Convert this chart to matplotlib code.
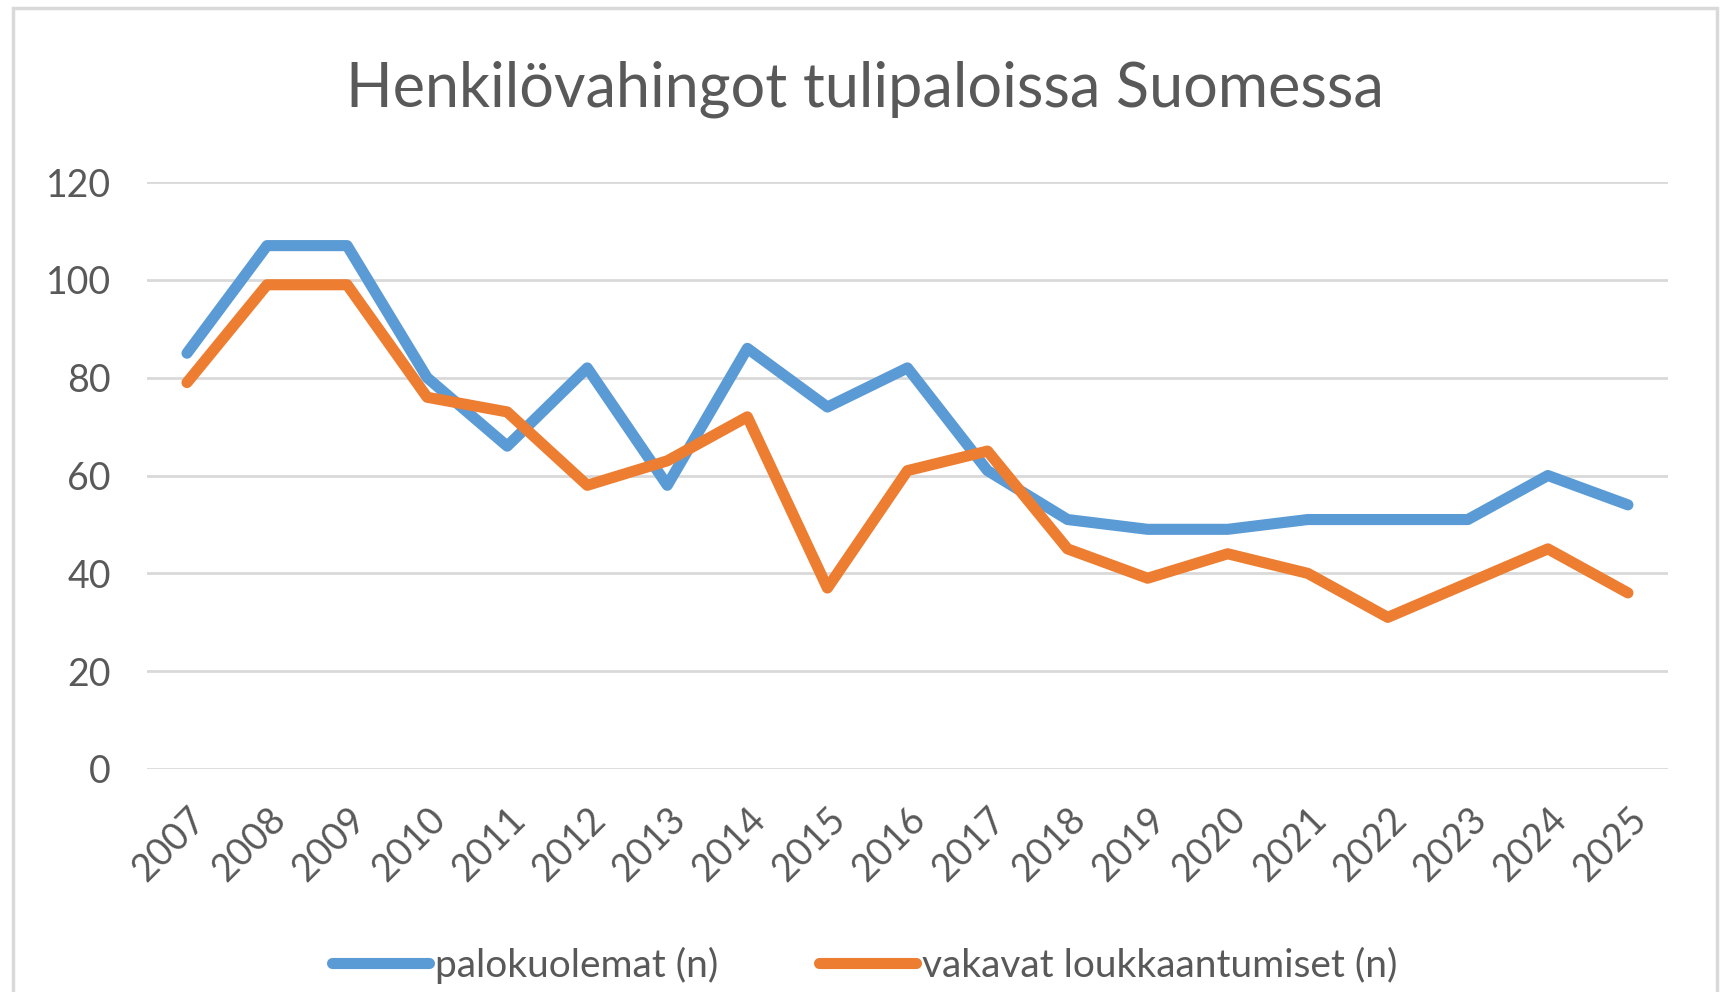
import matplotlib
matplotlib.use("Agg")
import matplotlib.pyplot as plt
from matplotlib.patches import Rectangle

plt.rcParams['font.family'] = ['Lato', 'DejaVu Sans']

years = [str(y) for y in range(2007, 2026)]
palokuolemat = [85, 107, 107, 80, 66, 82, 58, 86, 74, 82, 61, 51, 49, 49, 51, 51, 51, 60, 54]
loukkaantumiset = [79, 99, 99, 76, 73, 58, 63, 72, 37, 61, 65, 45, 39, 44, 40, 31, 38, 45, 36]

text_col = '#595959'
grid_col = '#d9d9d9'

fig = plt.figure(figsize=(17.29, 9.92), dpi=100)
ax = fig.add_axes([0.085, 0.2248, 0.8797, 0.5917])

x = range(len(years))
ax.plot(x, palokuolemat, color='#5B9BD5', lw=8, solid_capstyle='round',
        solid_joinstyle='round', label='palokuolemat (n)')
ax.plot(x, loukkaantumiset, color='#ED7D31', lw=8, solid_capstyle='round',
        solid_joinstyle='round', label='vakavat loukkaantumiset (n)')

ax.set_xlim(-0.5, len(years) - 0.5)
ax.set_ylim(0, 120)
ax.set_yticks(range(0, 121, 20))
ax.set_xticks(list(x))
ax.set_xticklabels(years, rotation=45, ha='right', rotation_mode='anchor')
ax.grid(axis='y', color=grid_col, lw=2)
ax.set_axisbelow(True)
for s in ax.spines.values():
    s.set_visible(False)
ax.tick_params(axis='both', length=0, labelsize=27, colors=text_col)
ax.tick_params(axis='y', pad=26)
ax.tick_params(axis='x', pad=23)

fig.text(0.5, 0.91, 'Henkilövahingot tulipaloissa Suomessa', ha='center',
         va='center', fontsize=44, color=text_col)

leg = fig.legend(loc='center', bbox_to_anchor=(0.5, 0.027), ncol=2, frameon=False,
                 fontsize=28, labelcolor=text_col, handlelength=2.5,
                 handletextpad=0.15, columnspacing=2.6)

# chart border (bottom edge cut off in the original)
fig.patches.append(Rectangle((0.0075, -0.05), 0.9855, 1.042, transform=fig.transFigure,
                             fill=False, edgecolor=grid_col, lw=2.5))

fig.savefig('out.png', dpi=100)
